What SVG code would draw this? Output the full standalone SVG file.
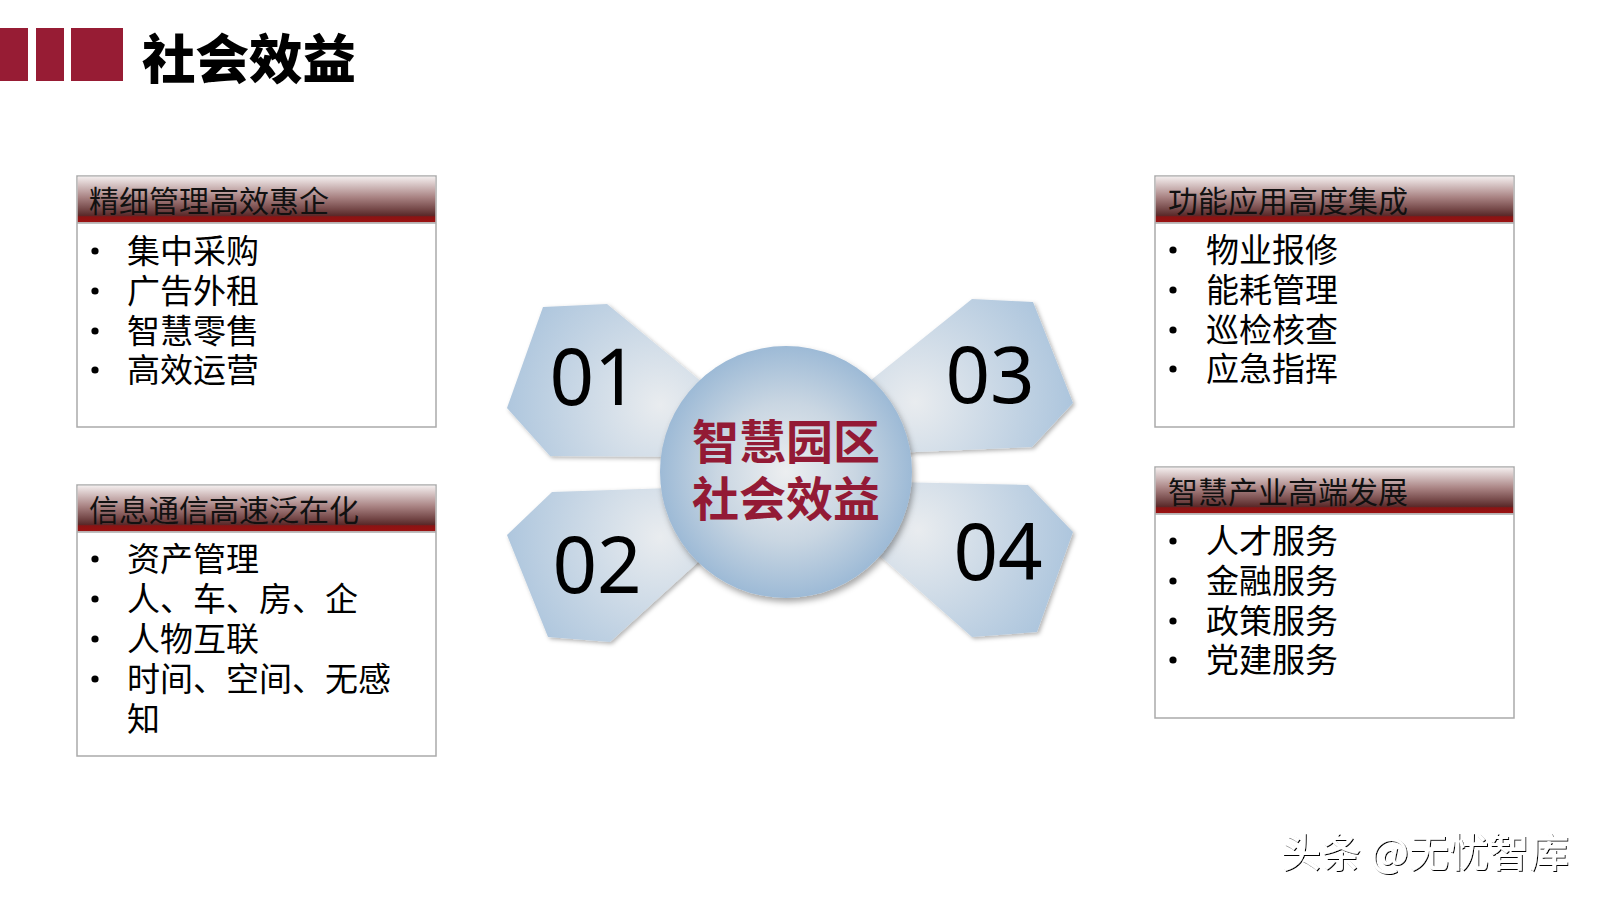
<svg xmlns="http://www.w3.org/2000/svg" width="1600" height="900" viewBox="0 0 1600 900">
<style>
.cjk{font-family:"Noto Sans CJK SC","Noto Sans",sans-serif}
.head{font-size:30px;fill:#111}
.item{font-size:33px;fill:#000}
.num{font-family:"Noto Sans","Open Sans",sans-serif;font-size:78px;fill:#000;text-anchor:middle}
.center{font-size:47px;font-weight:700;fill:#931a35;text-anchor:middle}
.box{fill:#fff;stroke:#aaaaaa;stroke-width:1.5}
.hdr{fill:url(#hdrGrad)}
.bul{fill:#000}
.petal{filter:url(#soft)}
</style>
<defs>
<linearGradient id="hdrGrad" x1="0" y1="0" x2="0" y2="1">
<stop offset="0" stop-color="#f3eded"/>
<stop offset="0.45" stop-color="#a98383"/>
<stop offset="0.85" stop-color="#5a2a2a"/>
<stop offset="0.88" stop-color="#8a1414"/>
<stop offset="1" stop-color="#9c1111"/>
</linearGradient>
<radialGradient id="circGrad" cx="0.5" cy="0.5" r="0.5">
<stop offset="0" stop-color="#eceef0"/>
<stop offset="0.55" stop-color="#c9d6e2"/>
<stop offset="1" stop-color="#9dbad6"/>
</radialGradient>
<radialGradient id="p1Grad" gradientUnits="userSpaceOnUse" cx="660" cy="405" r="175">
<stop offset="0" stop-color="#e9ecef"/>
<stop offset="1" stop-color="#a6c1db"/>
</radialGradient>
<radialGradient id="p3Grad" gradientUnits="userSpaceOnUse" cx="915" cy="402" r="175">
<stop offset="0" stop-color="#e9ecef"/>
<stop offset="1" stop-color="#a6c1db"/>
</radialGradient>
<radialGradient id="p2Grad" gradientUnits="userSpaceOnUse" cx="660" cy="537" r="175">
<stop offset="0" stop-color="#e9ecef"/>
<stop offset="1" stop-color="#a6c1db"/>
</radialGradient>
<radialGradient id="p4Grad" gradientUnits="userSpaceOnUse" cx="918" cy="530" r="175">
<stop offset="0" stop-color="#e9ecef"/>
<stop offset="1" stop-color="#a6c1db"/>
</radialGradient>
<filter id="soft" x="-10%" y="-10%" width="130%" height="130%">
<feGaussianBlur in="SourceAlpha" stdDeviation="2"/>
<feOffset dx="2" dy="2" result="b"/>
<feFlood flood-color="#000" flood-opacity="0.3"/>
<feComposite in2="b" operator="in"/>
<feMerge><feMergeNode/><feMergeNode in="SourceGraphic"/></feMerge>
</filter>
<filter id="circShadow" x="-20%" y="-20%" width="140%" height="140%">
<feGaussianBlur in="SourceAlpha" stdDeviation="3"/>
<feOffset dx="2" dy="4" result="b"/>
<feFlood flood-color="#000" flood-opacity="0.35"/>
<feComposite in2="b" operator="in"/>
<feMerge><feMergeNode/><feMergeNode in="SourceGraphic"/></feMerge>
</filter>
<filter id="wm" x="-5%" y="-20%" width="110%" height="140%">
<feOffset in="SourceAlpha" dx="-1.2" dy="-1.2" result="o"/>
<feFlood flood-color="#ffffff"/>
<feComposite in2="o" operator="in" result="w"/>
<feMerge><feMergeNode in="SourceGraphic"/><feMergeNode in="w"/></feMerge>
</filter>
</defs>
<rect width="1600" height="900" fill="#ffffff"/>

<g id="title">
<rect x="0" y="28" width="28" height="53" fill="#971c34"/>
<rect x="36" y="28" width="28" height="53" fill="#971c34"/>
<rect x="71" y="28" width="52" height="53" fill="#971c34"/>
<text x="142" y="79" class="cjk" font-size="53.5" font-weight="900" fill="#000">社会效益</text>
</g>

<g id="box-left-1">
<rect class="box" x="77" y="176" width="359" height="251"/>
<rect class="hdr" x="77.75" y="176.75" width="357.5" height="45.5"/>
<line x1="77" y1="223" x2="436" y2="223" stroke="#aaaaaa" stroke-width="1.5"/>
<text x="89" y="212" class="cjk head">精细管理高效惠企</text>
<circle class="bul" cx="95" cy="251" r="3.6"/>
<circle class="bul" cx="95" cy="291" r="3.6"/>
<circle class="bul" cx="95" cy="331" r="3.6"/>
<circle class="bul" cx="95" cy="370" r="3.6"/>
<text x="127" y="263" class="cjk item">集中采购</text>
<text x="127" y="303" class="cjk item">广告外租</text>
<text x="127" y="343" class="cjk item">智慧零售</text>
<text x="127" y="382" class="cjk item">高效运营</text>
</g>

<g id="box-left-2">
<rect class="box" x="77" y="485" width="359" height="271"/>
<rect class="hdr" x="77.75" y="485.75" width="357.5" height="45.5"/>
<line x1="77" y1="532" x2="436" y2="532" stroke="#aaaaaa" stroke-width="1.5"/>
<text x="89" y="521" class="cjk head">信息通信高速泛在化</text>
<circle class="bul" cx="95" cy="559" r="3.6"/>
<circle class="bul" cx="95" cy="599" r="3.6"/>
<circle class="bul" cx="95" cy="639" r="3.6"/>
<circle class="bul" cx="95" cy="679" r="3.6"/>
<text x="127" y="571" class="cjk item">资产管理</text>
<text x="127" y="611" class="cjk item">人、车、房、企</text>
<text x="127" y="651" class="cjk item">人物互联</text>
<text x="127" y="691" class="cjk item">时间、空间、无感</text>
<text x="127" y="731" class="cjk item">知</text>
</g>

<g id="box-right-1">
<rect class="box" x="1155" y="176" width="359" height="251"/>
<rect class="hdr" x="1155.75" y="176.75" width="357.5" height="45.5"/>
<line x1="1155" y1="223" x2="1514" y2="223" stroke="#aaaaaa" stroke-width="1.5"/>
<text x="1168" y="212" class="cjk head">功能应用高度集成</text>
<circle class="bul" cx="1173" cy="250" r="3.6"/>
<circle class="bul" cx="1173" cy="290" r="3.6"/>
<circle class="bul" cx="1173" cy="330" r="3.6"/>
<circle class="bul" cx="1173" cy="369" r="3.6"/>
<text x="1206" y="262" class="cjk item">物业报修</text>
<text x="1206" y="302" class="cjk item">能耗管理</text>
<text x="1206" y="342" class="cjk item">巡检核查</text>
<text x="1206" y="381" class="cjk item">应急指挥</text>
</g>

<g id="box-right-2">
<rect class="box" x="1155" y="467" width="359" height="251"/>
<rect class="hdr" x="1155.75" y="467.75" width="357.5" height="45.5"/>
<line x1="1155" y1="514" x2="1514" y2="514" stroke="#aaaaaa" stroke-width="1.5"/>
<text x="1168" y="503" class="cjk head">智慧产业高端发展</text>
<circle class="bul" cx="1173" cy="541" r="3.6"/>
<circle class="bul" cx="1173" cy="581" r="3.6"/>
<circle class="bul" cx="1173" cy="621" r="3.6"/>
<circle class="bul" cx="1173" cy="660" r="3.6"/>
<text x="1206" y="553" class="cjk item">人才服务</text>
<text x="1206" y="593" class="cjk item">金融服务</text>
<text x="1206" y="633" class="cjk item">政策服务</text>
<text x="1206" y="672" class="cjk item">党建服务</text>
</g>

<g id="connectors"></g>

<g id="petal-01">
<polygon class="petal" points="543,307 607,304 730,405 730,457 550,456 507,408" fill="url(#p1Grad)"/>
<text x="594" y="405" class="num">01</text>
</g>
<g id="petal-03">
<polygon class="petal" points="972,299 1033,302 1073,403 1032,447 845,455 845,401" fill="url(#p3Grad)"/>
<text x="990" y="403" class="num">03</text>
</g>
<g id="petal-02">
<polygon class="petal" points="552,492 730,486 730,533 610,642 548,637 507,535" fill="url(#p2Grad)"/>
<text x="597" y="593" class="num">02</text>
</g>
<g id="petal-04">
<polygon class="petal" points="845,481 1028,485 1073,532 1037,632 972,637 845,525" fill="url(#p4Grad)"/>
<text x="998" y="580" class="num">04</text>
</g>

<g id="center">
<circle cx="786" cy="472" r="126" fill="url(#circGrad)" filter="url(#circShadow)"/>
<text x="786" y="459" class="cjk center">智慧园区</text>
<text x="786" y="516" class="cjk center">社会效益</text>
</g>

<g id="watermark">
<text x="1282" y="868" class="cjk" font-size="40" font-weight="500" fill="#000" filter="url(#wm)">头条 @无忧智库</text>
</g>
</svg>
